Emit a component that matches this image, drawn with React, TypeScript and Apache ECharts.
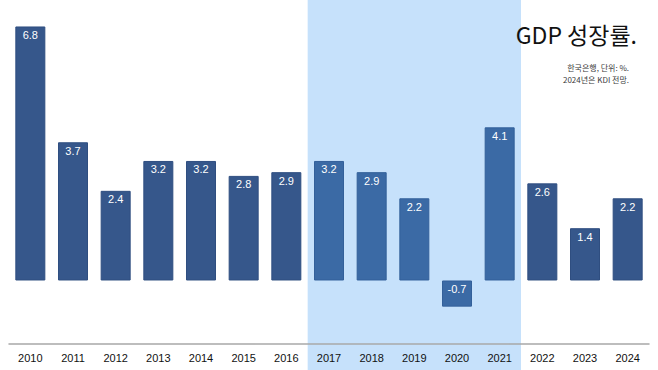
import React, { useEffect, useRef } from "react";
import * as echarts from "echarts";

const years = ["2010","2011","2012","2013","2014","2015","2016","2017","2018","2019","2020","2021","2022","2023","2024"];
const growth = [6.8, 3.7, 2.4, 3.2, 3.2, 2.8, 2.9, 3.2, 2.9, 2.2, -0.7, 4.1, 2.6, 1.4, 2.2];
const highlightYears = ["2017", "2018", "2019", "2020", "2021"];
const titleText = "GDP 성장률.";
const noteLines = ["한국은행, 단위: %.", "2024년은 KDI 전망."];

const DARK = "#36578b";
const LIGHT = "#3b6aa5";
const BAND = "#c6e1fb";

export default function App() {
  const ref = useRef<HTMLDivElement>(null);
  useEffect(() => {
    if (!ref.current) return;
    const chart = echarts.init(ref.current, undefined, { renderer: "svg" });
    const option: any = {
      animation: false,
      backgroundColor: "#ffffff",
      grid: { left: 9, right: 9, top: 19, bottom: 26, containLabel: false },
      xAxis: {
        type: "category",
        data: years,
        axisLine: { onZero: false, lineStyle: { color: "#a8a8a8", width: 1.5 } },
        axisTick: { show: false },
        axisLabel: { color: "#111", fontSize: 11, fontFamily: "Liberation Sans, Arial, sans-serif", margin: 8 },
      },
      yAxis: {
        type: "value",
        min: -1.7,
        max: 7,
        show: false,
        splitLine: { show: false },
      },
      series: [
        {
          type: "bar",
          barWidth: 30,
          data: growth.map((v, i) => ({
            value: v,
            itemStyle: {
              color: highlightYears.includes(years[i]) ? LIGHT : DARK,
              borderColor: highlightYears.includes(years[i]) ? "#33609a" : "#2f4e80",
              borderWidth: 1,
            },
          })),
          label: {
            show: true,
            position: "insideTop",
            distance: 3,
            color: "#ffffff",
            fontSize: 11,
            fontFamily: "Liberation Sans, Arial, sans-serif",
            formatter: (p: any) => p.value.toFixed(1),
          },
          z: 3,
        },
      ],
    };
    chart.setOption(option);
    const first = chart.convertToPixel({ xAxisIndex: 0 }, highlightYears[0]) as number;
    const last = chart.convertToPixel({ xAxisIndex: 0 }, highlightYears[highlightYears.length - 1]) as number;
    const step = (chart.convertToPixel({ xAxisIndex: 0 }, years[1]) as number) - (chart.convertToPixel({ xAxisIndex: 0 }, years[0]) as number);
    chart.setOption({
      graphic: [
        {
          type: "rect",
          z: -10,
          silent: true,
          shape: { x: first - step / 2, y: 0, width: last - first + step, height: 370 },
          style: { fill: BAND },
        },
        {
          type: "text",
          z: 10,
          right: 21,
          top: 22,
          style: {
            text: titleText,
            fill: "#111",
            font: "400 23px 'Noto Sans CJK KR', sans-serif",
            textAlign: "right",
          },
        },
        {
          type: "text",
          z: 10,
          right: 29,
          top: 61,
          style: {
            text: noteLines.join("\n"),
            fill: "#3a3a3a",
            font: "400 8px 'Noto Sans CJK KR', sans-serif",
            lineHeight: 12,
            textAlign: "right",
          },
        },
      ],
    });
    return () => chart.dispose();
  }, []);
  return <div ref={ref} style={{ width: 658, height: 370, position: "absolute", left: 0, top: 0 }} />;
}
